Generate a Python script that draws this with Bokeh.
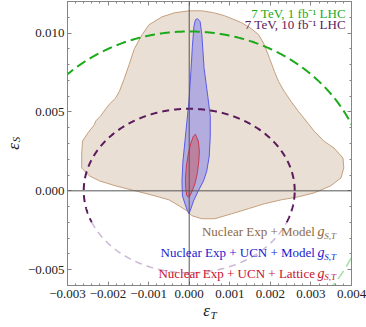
import numpy as np
from bokeh.plotting import figure
from bokeh.models import Label, Span, LinearAxis, FixedTicker, CustomJSTickFormatter, Range1d
from bokeh.embed import file_html
from bokeh.resources import INLINE

# ---------------- data ----------------
X_RANGE = (-0.003, 0.004)
Y_RANGE = (-0.006, 0.012)
X_TICKS = [-0.003, -0.002, -0.001, 0.0, 0.001, 0.002, 0.003, 0.004]
X_TICK_LABELS = ["\u22120.003", "\u22120.002", "\u22120.001", "0.000", "0.001", "0.002", "0.003", "0.004"]
Y_TICKS = [-0.005, 0.0, 0.005, 0.010]
Y_TICK_LABELS = ["\u22120.005", "0.000", "0.005", "0.010"]
X_MINOR_STEP = 0.0002
Y_MINOR_STEP = 0.001

# Nuclear Exp + Model region (brown)
BROWN_X = [-0.00231, -0.00219, -0.00197, -0.00182, -0.00172, -0.00160, -0.00148, -0.00135,
           -0.00116, -0.00099, -0.00067, -0.00035, 0.00000, 0.00031, 0.00060, 0.00087,
           0.00129, 0.00153, 0.00171, 0.00185, 0.00198, 0.00210, 0.00220, 0.00234,
           0.00251, 0.00269, 0.00283, 0.00308, 0.00332, 0.00357, 0.00379, 0.00381,
           0.00374, 0.00349, 0.00308, 0.00269, 0.00227, 0.00185, 0.00146, 0.00105,
           0.00063, 0.00031, 0.00007, -0.00006, -0.00025, -0.00050, -0.00084, -0.00133,
           -0.00182, -0.00221, -0.00246, -0.00258, -0.00265, -0.00265, -0.00263, -0.00250,
           -0.00233]
BROWN_Y = [0.00441, 0.00473, 0.00549, 0.00586, 0.00631, 0.00712, 0.00801, 0.00902,
           0.00990, 0.01053, 0.01103, 0.01129, 0.01141, 0.01141, 0.01129, 0.01110,
           0.01066, 0.01028, 0.00990, 0.00927, 0.00839, 0.00757, 0.00694, 0.00631,
           0.00567, 0.00504, 0.00460, 0.00378, 0.00315, 0.00271, 0.00208, 0.00145,
           0.00082, 0.00032, -0.00013, -0.00038, -0.00057, -0.00082, -0.00113, -0.00145,
           -0.00177, -0.00177, -0.00158, -0.00126, -0.00095, -0.00057, -0.00032, 0.00000,
           0.00032, 0.00063, 0.00095, 0.00126, 0.00145, 0.00233, 0.00315, 0.00366,
           0.00422]

# Nuclear Exp + UCN + Model region (blue)
BLUE_X = [0.000206, 0.000269, 0.000311, 0.000367, 0.000458, 0.000519, 0.000519, 0.000494,
          0.000433, 0.000353, 0.000213, 0.000108, 0.000024, -0.000007, -0.000044, -0.000105,
          -0.000166, -0.000179, -0.000154, -0.000105, -0.000056, -0.000007, 0.000042,
          0.000078, 0.000115, 0.000152]
BLUE_Y = [0.01091, 0.01072, 0.00990, 0.00776, 0.00599, 0.00473, 0.00347, 0.00221,
          0.00126, 0.00063, -0.00006, -0.00063, -0.00126, -0.00145, -0.00126, -0.00082,
          -0.00032, 0.00063, 0.00189, 0.00315, 0.00441, 0.00567, 0.00757,
          0.00915, 0.01040, 0.01084]

# Nuclear Exp + UCN + Lattice region (red)
RED_X = [0.000152, 0.000225, 0.000250, 0.000237, 0.000201, 0.000140, 0.000054, -0.000007,
         -0.000056, -0.000086, -0.000093, -0.000069, -0.000020, 0.000042, 0.000103]
RED_Y = [0.00359, 0.00315, 0.00252, 0.00189, 0.00113, 0.00044, -0.00013, -0.00041,
         -0.00032, 0.00013, 0.00076, 0.00158, 0.00240, 0.00303, 0.00347]

# LHC reach contours (centre, semi-axes)
GREEN_CONTOUR = dict(cx=0.0, cy=0.0, a=0.0044, b=0.0101)    # 7 TeV, 1 fb^-1
PURPLE_CONTOUR = dict(cx=0.0, cy=0.0, a=0.0026, b=0.0052)   # 7 TeV, 10 fb^-1
FADE_BELOW = -0.002   # contours drawn faded below this eps_S

TOP_LABELS = ["7 TeV, 1 fb\u207b\u00b9 LHC", "7 TeV, 10 fb\u207b\u00b9 LHC"]
TOP_LABEL_Y = [0.01122, 0.01055]
BOTTOM_LABELS = ["Nuclear Exp + Model", "Nuclear Exp + UCN + Model", "Nuclear Exp + UCN + Lattice"]
BOTTOM_LABEL_Y = [-0.00258, -0.00392, -0.00523]

# ---------------- styles ----------------
FONT = "'Liberation Serif'"
GREEN = "#1aaa1a"
GREEN_LIGHT = "#a6e0a6"
PURPLE = "#5a1a5c"
PURPLE_LIGHT = "#cdb8d6"
BROWN_TEXT = "#8c6a46"
BLUE_TEXT = "#1a1ad0"
RED_TEXT = "#c81030"
FRAME = "#858585"
INK = "#222222"

p = figure(width=366, height=327, output_backend="svg", toolbar_location=None,
           x_range=Range1d(*X_RANGE), y_range=Range1d(*Y_RANGE),
           min_border_left=65, min_border_right=15, min_border_top=1, min_border_bottom=42,
           x_axis_location=None, y_axis_location=None)
p.grid.visible = False
p.outline_line_color = FRAME
p.background_fill_color = "white"
p.border_fill_color = "white"


def fmt(tick_values, tick_labels):
    return CustomJSTickFormatter(args=dict(tv=tick_values, tl=tick_labels), code="""
        let best = 0;
        for (let i = 1; i < tv.length; i++) {
            if (Math.abs(tv[i] - tick) < Math.abs(tv[best] - tick)) best = i;
        }
        return tl[best];
    """)


x_minor = [float(v) for v in np.round(np.arange(X_RANGE[0], X_RANGE[1] + 1e-9, X_MINOR_STEP), 6)]
y_minor = [float(v) for v in np.round(np.arange(Y_RANGE[0], Y_RANGE[1] + 1e-9, Y_MINOR_STEP), 6)]
xt = FixedTicker(ticks=X_TICKS, minor_ticks=x_minor)
yt = FixedTicker(ticks=Y_TICKS, minor_ticks=y_minor)


def style(ax, show):
    ax.axis_line_color = FRAME
    ax.major_tick_line_color = FRAME
    ax.minor_tick_line_color = FRAME
    ax.major_tick_in = 4
    ax.major_tick_out = 0
    ax.minor_tick_in = 2
    ax.minor_tick_out = 0
    if show:
        ax.major_label_text_font = FONT
        ax.major_label_text_font_size = "13px"
        ax.major_label_text_color = INK
    else:
        ax.major_label_text_font_size = "0px"
        ax.major_label_standoff = 0


def set_title(ax, label, size, standoff):
    ax.axis_label = label
    ax.axis_label_text_font = FONT
    ax.axis_label_text_font_size = size
    ax.axis_label_text_font_style = "italic"
    ax.axis_label_text_color = INK
    ax.axis_label_standoff = standoff


def title_axis(label, size, standoff):
    """An axis with no line/ticks, used only to carry part of an axis title."""
    ax = LinearAxis(ticker=FixedTicker(ticks=[]), axis_line_color=None,
                    major_tick_line_color=None, minor_tick_line_color=None,
                    major_tick_in=0, major_tick_out=0, minor_tick_in=0, minor_tick_out=0,
                    major_label_text_font_size="0px", major_label_standoff=0)
    set_title(ax, label, size, standoff)
    return ax


SP_MAIN = "\u2004"          # spacer after epsilon
SP_SUB = "\u2002\u2005"     # spacer before subscript

bottom = LinearAxis(ticker=xt, formatter=fmt(X_TICKS, X_TICK_LABELS))
style(bottom, True)
bottom.major_label_standoff = 4
set_title(bottom, "\u03b5" + SP_MAIN, "17px", 0)

left = LinearAxis(ticker=yt, formatter=fmt(Y_TICKS, Y_TICK_LABELS))
style(left, True)
left.major_label_standoff = 3
set_title(left, SP_SUB + "S", "11px", 3)

top = LinearAxis(ticker=xt, formatter=fmt(X_TICKS, [""] * len(X_TICKS)))
style(top, False)
right = LinearAxis(ticker=yt, formatter=fmt(Y_TICKS, [""] * len(Y_TICKS)))
style(right, False)

p.add_layout(bottom, "below")
p.add_layout(title_axis(SP_SUB + "T", "11px", -14), "below")
p.add_layout(left, "left")
p.add_layout(title_axis("\u03b5" + SP_MAIN, "17px", -16), "left")
p.add_layout(top, "above")
p.add_layout(right, "right")

# regions
p.patch(BROWN_X, BROWN_Y, fill_color="#eadfd4", line_color="#c4a07e", line_width=1)
p.patch(BLUE_X, BLUE_Y, fill_color="#b2acdf", line_color="#5a5ae8", line_width=1)
p.patch(RED_X, RED_Y, fill_color="#bb829f", line_color="#c83a52", line_width=1)


# LHC contours
def contour(c, dark, light, dash, width):
    t = np.linspace(0, 2 * np.pi, 1441)
    x = c["cx"] + c["a"] * np.cos(t)
    y = c["cy"] + c["b"] * np.sin(t)
    xd = np.where(y >= FADE_BELOW, x, np.nan)
    yd = np.where(y >= FADE_BELOW, y, np.nan)
    xl = np.where(y <= FADE_BELOW + 0.00005, x, np.nan)
    yl = np.where(y <= FADE_BELOW + 0.00005, y, np.nan)
    p.line(xl, yl, line_color=light, line_width=width * 0.8, line_dash=dash)
    p.line(xd, yd, line_color=dark, line_width=width, line_dash=dash)


contour(GREEN_CONTOUR, GREEN, GREEN_LIGHT, "10 5", 2)
contour(PURPLE_CONTOUR, PURPLE, PURPLE_LIGHT, "7 5", 2)

# zero axes
p.add_layout(Span(location=0, dimension="height", line_color="#555555", line_width=1))
p.add_layout(Span(location=0, dimension="width", line_color="#555555", line_width=1))

# top-right legend
for txt, yy, col in zip(TOP_LABELS, TOP_LABEL_Y, [GREEN, PURPLE]):
    p.add_layout(Label(x=0.00386, y=yy, text=txt, text_align="right", text_baseline="middle",
                       text_font=FONT, text_font_size="13px", text_color=col))

# bottom legend
for txt, yy, col in zip(BOTTOM_LABELS, BOTTOM_LABEL_Y, [BROWN_TEXT, BLUE_TEXT, RED_TEXT]):
    p.add_layout(Label(x=0.00310, y=yy, text=txt, text_align="right", text_baseline="middle",
                       text_font=FONT, text_font_size="13px", text_color=col))
    p.add_layout(Label(x=0.00316, y=yy, text="g", text_align="left", text_baseline="middle",
                       text_font=FONT, text_font_size="14px", text_font_style="italic", text_color=col))
    p.add_layout(Label(x=0.00333, y=yy, y_offset=-4, text="S,T", text_align="left",
                       text_baseline="middle", text_font=FONT, text_font_size="9px",
                       text_font_style="italic", text_color=col))

open("out.html", "w").write(file_html(p, INLINE))
